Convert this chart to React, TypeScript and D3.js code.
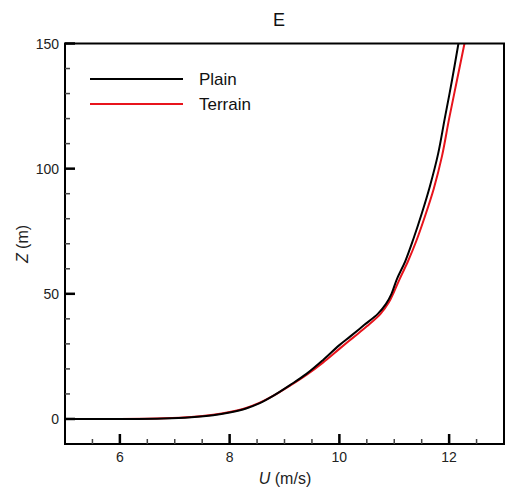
import React from "react";
import * as d3 from "d3";

const plainU = [5.05, 6.0, 6.8, 7.3, 7.7, 8.0, 8.3, 8.55, 8.8, 9.1, 9.4, 9.7, 10.0, 10.2, 10.45, 10.7, 10.85, 10.95, 11.05, 11.2, 11.35, 11.5, 11.65, 11.8, 11.92, 12.05, 12.17];
const plainZ = [0, 0, 0.2, 0.7, 1.5, 2.6, 4.2, 6.3, 9.3, 13.5, 18, 23.5, 29.5, 33, 37.5, 42, 46, 50, 56, 63, 72, 82, 93, 106, 120, 135, 150];
const terrainU = [5.05, 6.0, 6.8, 7.3, 7.7, 8.0, 8.3, 8.55, 8.8, 9.1, 9.4, 9.7, 10.0, 10.25, 10.5, 10.75, 10.9, 11.0, 11.1, 11.25, 11.4, 11.56, 11.72, 11.87, 12.0, 12.14, 12.28];
const terrainZ = [0, 0, 0.3, 0.8, 1.7, 2.8, 4.4, 6.5, 9.3, 13.3, 17.6, 22.5, 28, 32.5, 37, 42, 46.5, 51, 56, 63, 71, 81, 92, 105, 120, 135, 150];

const xMajor = [6, 8, 10, 12];
const yMajor = [0, 50, 100, 150];
const seriesNames = ["Plain", "Terrain"];
const seriesColors = ["#000000", "#e8141c"];

export default function App() {
  const W = 505, H = 496;
  const L = 65, R = 504, T = 43.5, B = 444;
  const x = d3.scaleLinear().domain([5, 13]).range([L, R]);
  const y = d3.scaleLinear().domain([-10, 150]).range([B, T]);
  const line = d3.line<[number, number]>().x(d => x(d[0])).y(d => y(d[1])).curve(d3.curveCatmullRom);
  const series = [
    plainU.map((u, i) => [u, plainZ[i]] as [number, number]),
    terrainU.map((u, i) => [u, terrainZ[i]] as [number, number]),
  ];
  const xMinor: number[] = [];
  for (let k = 11; k < 26; k++) { const v = k / 2; if (!xMajor.includes(v)) xMinor.push(v); }
  const yMinor: number[] = [];
  for (let v = 10; v < 150; v += 10) { if (!yMajor.includes(v)) yMinor.push(v); }
  const font = "'Liberation Sans', Arial, sans-serif";
  return (
    <svg width={W} height={H} style={{ position: "absolute", left: 0, top: 0, background: "#fff" }} fontFamily={font}>
      <defs>
        <clipPath id="pc"><rect x={L} y={T} width={R - L} height={B - T} /></clipPath>
      </defs>
      <text x={279} y={26} textAnchor="middle" fontSize={18} fill="#111">E</text>
      <g clipPath="url(#pc)">
        {[1, 0].map(i => (
          <path key={i} d={line(series[i]) || ""} fill="none" stroke={seriesColors[i]} strokeWidth={2} />
        ))}
      </g>
      <rect x={L} y={T} width={R - L} height={B - T} fill="none" stroke="#000" strokeWidth={2} />
      {xMajor.map(v => <rect key={"xM" + v} x={x(v) - 1.25} y={B - 10} width={2.5} height={10} fill="#000" />)}
      {xMinor.map(v => <rect key={"xm" + v} x={x(v) - 0.75} y={B - 5} width={1.5} height={5} fill="#444" />)}
      {yMajor.map(v => <rect key={"yM" + v} x={L} y={y(v) - 1.25} width={10} height={2.5} fill="#000" />)}
      {yMinor.map(v => <rect key={"ym" + v} x={L} y={y(v) - 0.75} width={5} height={1.5} fill="#444" />)}
      {xMajor.map(v => <text key={"xl" + v} x={x(v)} y={462} textAnchor="middle" fontSize={14} fill="#222">{v}</text>)}
      {yMajor.map(v => <text key={"yl" + v} x={59} y={y(v) + 5} textAnchor="end" fontSize={14} fill="#222">{v}</text>)}
      <text x={285} y={484} textAnchor="middle" fontSize={16} fill="#222"><tspan fontStyle="italic">U</tspan> (m/s)</text>
      <text transform={`translate(28,${244}) rotate(-90)`} textAnchor="middle" fontSize={16} fill="#222"><tspan fontStyle="italic">Z</tspan> (m)</text>
      {seriesNames.map((n, i) => (
        <g key={n}>
          <line x1={90} x2={183} y1={79 + i * 25} y2={79 + i * 25} stroke={seriesColors[i]} strokeWidth={2} />
          <text x={199} y={85 + i * 25} fontSize={17} fill="#111">{n}</text>
        </g>
      ))}
    </svg>
  );
}
